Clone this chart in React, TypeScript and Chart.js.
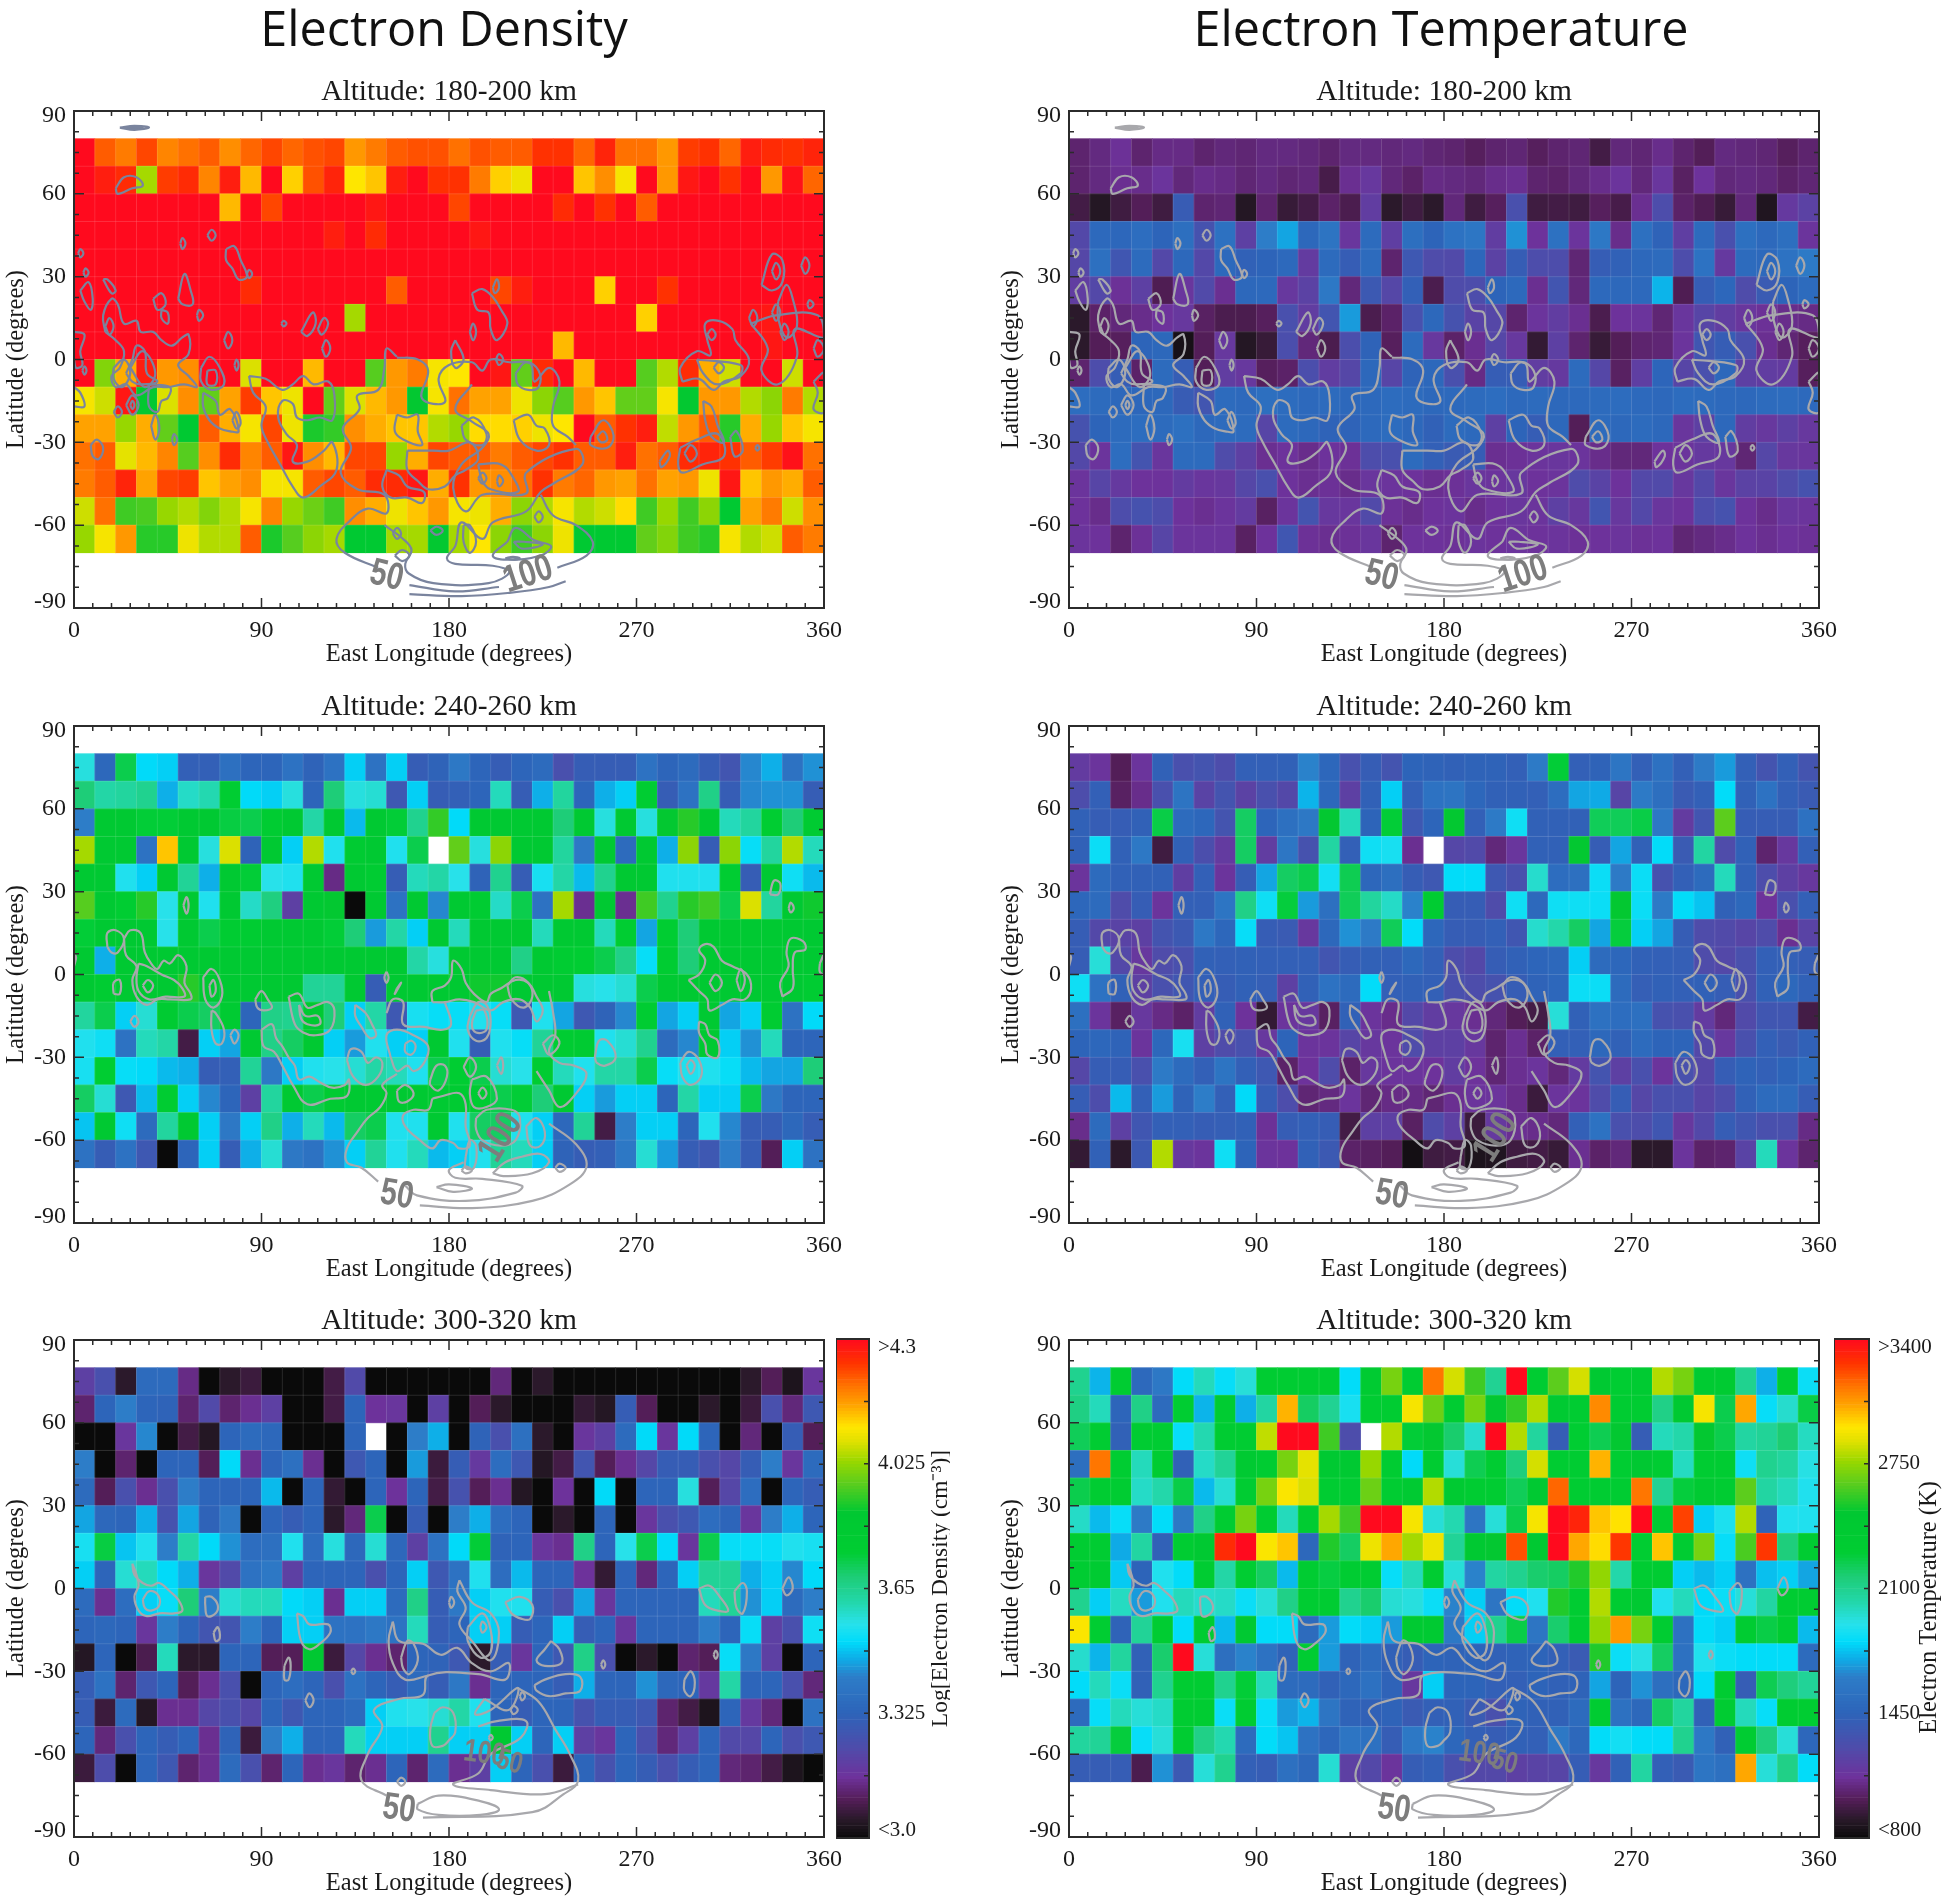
import React, { useEffect, useRef } from "react";
import { Chart, registerables } from "chart.js";

Chart.register(...registerables);

const rowTops = [80, 70, 60, 50, 40, 30, 20, 10, 0, -10, -20, -30, -40, -50, -60];
const colStarts = Array.from({ length: 36 }, (_, i) => i * 10);
const latTickValues = [88.2, 60, 30, 0, -30, -60, -87.8];
const latTickLabels = ["90", "60", "30", "0", "-30", "-60", "-90"];

const density180: number[][] = [
  [4.3,4.2,4.17,4.22,4.16,4.18,4.2,4.15,4.19,4.22,4.19,4.21,4.22,4.14,4.17,4.2,4.21,4.21,4.18,4.21,4.2,4.2,4.24,4.24,4.19,4.26,4.18,4.18,4.14,4.23,4.24,4.19,4.27,4.25,4.24,4.26],
  [4.3,4.27,4.25,3.99,4.23,4.25,4.16,4.27,4.11,4.3,4.09,4.21,4.26,4.07,4.1,4.27,4.3,4.24,4.24,4.17,4.09,4.05,4.3,4.3,4.1,4.15,4.06,4.3,4.14,4.28,4.3,4.24,4.3,4.14,4.29,4.19],
  [4.3,4.3,4.3,4.3,4.3,4.3,4.3,4.11,4.3,4.22,4.3,4.3,4.3,4.3,4.28,4.3,4.3,4.3,4.22,4.3,4.3,4.3,4.3,4.25,4.3,4.24,4.3,4.2,4.3,4.3,4.3,4.3,4.3,4.3,4.3,4.3],
  [4.3,4.3,4.3,4.3,4.3,4.3,4.3,4.3,4.3,4.3,4.3,4.3,4.27,4.3,4.25,4.3,4.3,4.3,4.3,4.28,4.3,4.3,4.3,4.3,4.3,4.3,4.3,4.3,4.3,4.3,4.3,4.3,4.3,4.3,4.3,4.3],
  [4.3,4.3,4.3,4.3,4.3,4.3,4.3,4.3,4.3,4.3,4.3,4.3,4.3,4.3,4.3,4.3,4.3,4.3,4.3,4.3,4.3,4.3,4.3,4.3,4.3,4.3,4.3,4.3,4.3,4.3,4.3,4.3,4.3,4.3,4.3,4.3],
  [4.3,4.3,4.3,4.3,4.3,4.3,4.3,4.3,4.25,4.3,4.3,4.3,4.3,4.3,4.3,4.2,4.3,4.3,4.3,4.3,4.22,4.27,4.3,4.3,4.3,4.09,4.3,4.3,4.24,4.3,4.3,4.3,4.3,4.3,4.3,4.3],
  [4.3,4.3,4.3,4.3,4.3,4.3,4.3,4.3,4.3,4.3,4.3,4.3,4.3,3.99,4.3,4.3,4.3,4.3,4.3,4.3,4.3,4.3,4.3,4.3,4.3,4.3,4.3,4.09,4.3,4.3,4.3,4.3,4.29,4.28,4.3,4.3],
  [4.3,4.3,4.3,4.3,4.3,4.3,4.3,4.3,4.3,4.3,4.3,4.3,4.3,4.3,4.3,4.3,4.3,4.3,4.3,4.3,4.3,4.3,4.3,4.11,4.3,4.3,4.3,4.3,4.3,4.3,4.3,4.3,4.3,4.28,4.3,4.3],
  [4.3,3.96,4.12,4.27,4.14,4.15,4.3,4.3,4.03,4.3,4.3,4.11,4.3,4.3,3.92,4.14,4.17,4.06,4.07,4.3,4.28,3.93,4.25,4.3,4.11,4.3,4.3,3.92,4.0,4.25,4.12,4.02,4.3,4.3,4.02,4.3],
  [4.06,4.02,4.28,3.85,4.03,4.15,3.93,4.13,4.23,4.1,4.05,4.3,3.93,4.03,4.11,4.14,3.85,4.06,4.18,4.13,4.13,4.05,3.97,3.92,4.14,4.1,3.93,3.93,4.06,3.85,4.14,4.14,4.0,3.97,4.17,4.0],
  [4.13,4.13,3.98,4.12,3.93,3.83,4.2,4.12,4.06,4.22,4.05,3.87,3.89,4.15,4.12,4.1,4.1,4.0,3.98,4.08,4.08,4.09,4.05,4.07,4.3,4.2,4.24,4.27,4.01,4.14,4.2,3.88,4.12,3.98,4.1,4.06],
  [4.18,4.2,4.04,4.11,4.16,3.92,4.15,4.25,4.16,4.2,4.28,4.15,4.11,4.22,4.22,3.98,4.12,4.22,4.2,4.2,4.17,4.2,4.22,4.24,4.2,4.2,4.27,4.18,4.2,4.25,4.26,4.24,4.2,4.23,4.29,4.18],
  [4.17,4.2,4.26,4.13,4.22,4.23,4.1,4.13,4.15,4.06,4.06,4.2,4.22,4.2,4.25,4.25,4.28,4.12,4.24,4.14,4.15,4.18,4.24,4.17,4.19,4.14,4.13,4.18,4.13,4.14,4.05,4.28,4.1,4.14,4.12,4.2],
  [4.02,4.18,3.9,3.91,3.98,4.0,3.96,4.0,4.06,4.16,3.98,3.94,3.9,4.15,4.12,4.05,4.1,4.14,4.06,4.05,4.12,3.97,4.0,4.06,4.0,4.02,4.08,3.9,3.98,3.9,3.97,3.83,4.13,4.17,4.02,4.15],
  [3.98,4.06,4.14,3.88,3.88,4.05,4.0,4.0,4.2,3.87,3.92,3.97,3.99,3.83,3.83,3.99,3.99,3.85,3.99,4.07,3.97,3.9,3.97,4.05,3.82,3.82,3.82,3.93,3.96,3.9,3.88,4.06,4.0,4.02,4.2,4.17],
];

const temperature180: number[][] = [
  [1040,1070,1110,1040,1080,1080,1040,1060,1050,1070,1070,1060,1040,1070,1070,1060,1070,1050,1040,1010,1040,1050,1010,1040,1050,960,1060,1050,1090,1040,1000,1070,1060,1050,1010,1040],
  [1040,1070,1100,1090,1130,1060,1090,1080,1050,1070,1050,1060,970,1100,1150,1060,1030,1080,1070,1060,1090,1100,1040,1030,1060,1090,1130,1060,1140,1020,1120,1060,1070,1060,1030,1050],
  [960,880,950,1000,950,1390,1040,1050,880,1040,930,960,1030,980,1180,900,950,900,1060,950,1010,1300,950,960,950,1010,970,1100,1280,1030,990,930,1060,870,1160,1210],
  [1250,1490,1470,1520,1450,1530,1320,1550,1200,1640,1720,1480,1570,1140,1500,1190,1530,1450,1560,1590,1180,1680,1120,1550,1130,1600,1090,1540,1440,1190,1500,1300,1540,1490,1530,1130],
  [1240,1540,1350,1500,1250,1480,1250,1490,1430,1450,1490,1170,1500,1400,1500,1040,1360,1270,1260,1470,1210,1400,1280,1280,1050,1400,1430,1480,1500,1280,1560,1160,1500,1490,1560,1620],
  [1180,1250,1110,1200,990,1140,1260,1100,1480,1490,1150,1210,1600,1060,1370,1240,1420,980,1270,1280,1450,1490,1100,1340,1060,1490,1480,1490,1750,990,1400,1470,1270,1380,1450,1500],
  [900,1030,1060,1090,1120,1150,1020,980,980,1010,1300,1180,1340,1700,980,1030,1310,1480,1320,1220,1240,1040,1130,1180,1100,980,1120,1130,1050,1140,1230,1180,1140,1110,1090,1080],
  [900,1000,1010,1450,1480,840,1000,1150,880,930,1290,1060,980,1290,1440,1010,1500,1150,1030,1100,1240,1150,920,1200,1040,930,1000,1040,1050,1130,1350,1400,1300,1100,1050,1010],
  [1040,1280,1400,1030,1500,1400,1000,1180,1150,1010,1030,1290,1180,1240,1480,1230,1440,1480,1300,1080,1400,1400,1180,1160,1500,1240,1020,1190,1460,1230,1300,1480,1200,1180,1170,1010],
  [1520,1500,1480,1470,1480,1390,1340,1500,1490,1530,1510,1490,1500,1480,1490,1510,1500,1480,1490,1500,1520,1490,1500,1480,1490,1500,1510,1490,1480,1510,1500,1490,1480,1500,1510,1490],
  [1320,1450,1500,1520,1500,1540,1480,1500,1500,1230,1500,1480,1440,1440,1490,1510,1480,1430,1500,1490,1200,1450,1400,1480,1000,1500,1480,1500,1480,1140,1200,1480,1180,1150,1200,1150],
  [1250,1130,1520,1330,1140,1500,1500,1270,1200,1100,1120,1090,1120,1110,1280,1300,1500,1420,1380,1400,1100,1110,1130,1140,1130,1090,1060,1060,1120,1130,1160,1150,1050,1240,1150,1140],
  [1130,1230,1160,1120,1120,1170,1140,1150,1240,1300,1120,1100,1110,1090,1140,1130,1120,1100,1110,1140,1130,1150,1120,1130,1270,1220,1120,1250,1260,1150,1250,1140,1210,1220,1270,1320],
  [1120,1090,1280,1320,1280,1120,1100,1130,1170,1020,1130,1330,1150,1140,1260,1110,1090,1120,1130,1090,1120,1140,1130,1200,1150,1340,1150,1250,1140,1120,1280,1320,1120,1090,1140,1130],
  [1130,1120,1040,1110,1230,1130,1130,1130,1020,1120,1350,1110,1100,1110,1140,1040,1120,1120,1110,1130,1120,1130,1120,1130,1110,1120,1130,1110,1120,1050,1070,1090,1120,1100,1120,1110],
];

const density240: (number | null)[][] = [
  [3.57,3.34,3.72,3.51,3.5,3.31,3.31,3.37,3.33,3.33,3.38,3.32,3.38,3.5,3.38,3.5,3.3,3.32,3.4,3.33,3.3,3.33,3.35,3.25,3.3,3.3,3.3,3.38,3.33,3.35,3.3,3.27,3.43,3.47,3.38,3.44],
  [3.68,3.62,3.63,3.65,3.47,3.59,3.61,3.75,3.51,3.5,3.57,3.33,3.68,3.57,3.58,3.28,3.5,3.3,3.31,3.33,3.6,3.3,3.47,3.63,3.33,3.47,3.5,3.75,3.3,3.38,3.66,3.3,3.43,3.44,3.44,3.3],
  [3.42,3.82,3.83,3.74,3.74,3.83,3.83,3.73,3.72,3.77,3.82,3.62,3.82,3.48,3.82,3.74,3.65,3.89,3.51,3.82,3.82,3.82,3.82,3.68,3.82,3.57,3.82,3.57,3.85,3.88,3.82,3.6,3.63,3.75,3.68,3.78],
  [3.99,3.82,3.82,3.38,4.1,3.82,3.57,4.03,3.32,3.82,3.5,4.0,3.55,3.78,3.82,3.55,3.72,null,3.93,3.57,3.97,3.82,3.82,3.63,3.4,3.82,3.35,3.82,3.47,3.97,3.3,3.97,3.52,3.63,4.0,3.6],
  [3.82,3.82,3.55,3.5,3.82,3.64,3.47,3.82,3.74,3.56,3.55,3.82,3.14,3.82,3.77,3.3,3.6,3.62,3.56,3.32,3.65,3.3,3.54,3.62,3.48,3.65,3.82,3.82,3.55,3.55,3.55,3.75,3.3,3.82,3.53,3.48],
  [3.92,3.82,3.75,3.88,3.56,3.82,3.55,3.82,3.59,3.67,3.2,3.82,3.85,3.0,3.82,3.38,3.82,3.43,3.82,3.76,3.59,3.72,3.38,3.99,3.15,3.82,3.15,3.9,3.65,3.88,3.9,3.72,4.03,3.63,3.82,3.86],
  [3.74,3.82,3.82,3.82,3.56,3.82,3.72,3.76,3.76,3.82,3.82,3.82,3.74,3.68,3.45,3.62,3.5,3.82,3.6,3.82,3.82,3.82,3.6,3.82,3.82,3.6,3.75,3.46,3.75,3.68,3.82,3.82,3.82,3.82,3.82,3.82],
  [3.82,3.47,3.82,3.82,3.82,3.82,3.82,3.82,3.82,3.82,3.82,3.82,3.82,3.82,3.82,3.82,3.62,3.57,3.82,3.82,3.82,3.66,3.82,3.76,3.75,3.72,3.66,3.52,3.76,3.68,3.82,3.82,3.82,3.82,3.82,3.82],
  [3.82,3.76,3.82,3.82,3.82,3.88,3.82,3.82,3.82,3.82,3.82,3.64,3.64,3.82,3.3,3.82,3.82,3.82,3.82,3.86,3.86,3.82,3.82,3.82,3.57,3.56,3.58,3.72,3.82,3.82,3.82,3.82,3.82,3.82,3.82,3.76],
  [3.63,3.72,3.5,3.58,3.78,3.72,3.7,3.78,3.33,3.66,3.65,3.82,3.68,3.5,3.62,3.28,3.54,3.52,3.52,3.55,3.52,3.28,3.55,3.46,3.28,3.32,3.43,3.76,3.46,3.5,3.82,3.46,3.5,3.76,3.38,3.51],
  [3.55,3.53,3.38,3.6,3.62,3.08,3.5,3.46,3.82,3.66,3.7,3.82,3.5,3.45,3.55,3.5,3.5,3.82,3.55,3.3,3.55,3.52,3.64,3.77,3.78,3.55,3.58,3.65,3.35,3.43,3.82,3.5,3.44,3.6,3.33,3.33],
  [3.54,3.75,3.52,3.51,3.48,3.47,3.3,3.31,3.64,3.4,3.5,3.55,3.56,3.58,3.62,3.6,3.55,3.72,3.75,3.72,3.58,3.56,3.76,3.6,3.55,3.62,3.62,3.72,3.52,3.55,3.55,3.52,3.48,3.46,3.46,3.68],
  [3.7,3.58,3.28,3.48,3.76,3.5,3.43,3.33,3.2,3.63,3.82,3.72,3.78,3.82,3.8,3.82,3.82,3.8,3.78,3.76,3.72,3.74,3.68,3.82,3.5,3.45,3.5,3.5,3.33,3.62,3.5,3.5,3.72,3.4,3.33,3.33],
  [3.49,3.82,3.53,3.35,3.63,3.82,3.5,3.4,3.5,3.66,3.47,3.6,3.48,3.7,3.72,3.55,3.55,3.82,3.55,3.7,3.7,3.55,3.5,3.34,3.64,3.08,3.42,3.5,3.5,3.33,3.55,3.43,3.3,3.3,3.34,3.3],
  [3.38,3.3,3.38,3.28,3.0,3.33,3.5,3.3,3.47,3.58,3.4,3.38,3.44,3.5,3.64,3.55,3.6,3.48,3.5,3.55,3.64,3.6,3.5,3.32,3.3,3.31,3.4,3.58,3.45,3.3,3.28,3.42,3.3,3.1,3.5,3.38],
];

const temperature240: (number | null)[][] = [
  [1170,1130,1000,1130,1430,1300,1330,1280,1420,1420,1430,1650,1470,1310,1400,1330,1450,1440,1430,1440,1440,1420,1620,2280,1420,1440,1580,1420,1550,1420,1620,1700,1420,1330,1420,1330],
  [1280,1420,1020,1090,1300,1570,1220,1330,1210,1300,1250,1750,1480,1200,1430,1800,1420,1560,1570,1470,1430,1430,1420,1520,1720,1730,1230,1620,1530,1380,1420,1830,1430,1560,1420,1380],
  [1430,1400,1400,1430,2250,1500,1470,1330,2200,1460,1540,1600,2500,2000,1450,2280,1360,1460,2500,1420,1620,1860,1430,1430,1430,2220,2220,2250,1600,1170,1340,2650,1400,1400,1400,1550],
  [1430,1850,1430,1600,950,1430,1290,1170,2200,1180,1590,1320,2050,1420,1860,1880,1100,null,1240,1260,1060,1140,1430,1430,2500,1400,1720,1430,1830,1380,2050,1270,1430,1040,1150,1420],
  [1130,1500,1430,1430,1430,1190,1420,1130,1400,1720,2200,2240,1870,2230,1470,1530,1400,1360,1830,1830,1360,1300,1970,1520,1540,1850,1620,1850,1320,1420,1500,2000,1430,1280,1200,1150],
  [1470,1500,1270,1400,1130,1420,1420,1580,2120,1860,2270,1700,1540,2220,2060,1980,1650,2330,1400,1400,1270,1860,1490,1860,1860,1850,2500,1850,1620,1830,1780,1430,1480,1120,1300,1420],
  [1400,1250,1220,1200,1330,1370,1600,1470,1840,1400,1380,1150,1480,1680,1620,2220,1830,1470,1400,1400,1420,1350,1970,2030,2200,1720,2270,1800,1720,1400,1270,1260,1230,1270,1100,1220],
  [1400,1950,1250,1150,1270,1300,1430,1420,1430,1420,1420,1420,1340,1400,1430,1420,1480,1420,1280,1250,1400,1430,1460,1480,1800,1500,1470,1430,1420,1410,1270,1250,1300,1420,1420,1400],
  [1860,1560,1430,1200,1300,1350,1420,1400,1430,1410,1200,1430,1560,1500,1830,1420,1430,1420,1300,1280,1320,1400,1440,1470,1850,1850,1500,1410,1430,1420,1430,1400,1300,1430,1480,1430],
  [1540,1130,1020,1150,1080,1030,1180,1430,1120,920,1130,1150,1020,1430,1130,1090,1250,1180,1150,1100,1060,1000,960,1950,1430,1550,1520,1540,1320,1300,1170,1060,1260,1350,1350,960],
  [1450,1470,1440,1130,1480,1880,1200,1270,1310,1150,1450,1130,1130,1230,1150,1130,1270,1200,1200,1150,1040,1100,1030,1420,1420,1480,1430,1500,1450,1450,1250,1150,1300,1420,1380,1430],
  [1240,1400,1400,1300,1620,1500,1420,1570,1420,1360,1030,1120,1270,1030,1150,1130,1130,1120,1180,1120,1050,1100,1130,1060,1170,1330,1200,1300,1130,1300,1240,1400,1440,1420,1450,1500],
  [1400,1280,1760,1420,1700,1440,1640,1420,1820,1400,1280,1050,1070,1130,1050,1080,1080,1050,1100,1130,1130,1090,940,1130,1130,1270,1400,1240,1300,1300,1230,1280,1430,1500,1500,1400],
  [1090,1500,1200,1350,1420,1420,1400,1410,1430,1110,1400,1420,1400,960,1200,1200,1020,1270,1200,940,1160,1100,1090,1060,1420,1560,1300,1280,1350,1150,1250,1400,1350,1300,1300,1080],
  [920,1430,900,1370,2800,1150,1130,1860,1450,1130,1120,1430,1370,1030,1020,1000,830,950,960,860,870,950,960,930,1100,1030,1060,900,900,1130,1030,1040,1220,2000,1130,1040],
];

const density300: (number | null)[][] = [
  [3.2,3.25,3.05,3.35,3.35,3.14,3.0,3.05,3.07,3.0,3.0,3.0,3.08,3.23,3.0,3.0,3.0,3.0,3.0,3.0,3.13,3.0,3.05,3.0,3.0,3.0,3.0,3.0,3.0,3.0,3.0,3.0,3.05,3.1,3.03,3.17],
  [3.12,3.33,3.42,3.33,3.32,3.12,3.23,3.12,3.15,3.2,3.0,3.0,3.08,3.33,3.16,3.17,3.0,3.2,3.0,3.1,3.05,3.0,3.0,3.0,3.06,3.04,3.3,3.1,3.0,3.0,3.05,3.0,3.07,3.25,3.13,3.28],
  [3.0,3.0,3.17,3.43,3.0,3.08,3.04,3.33,3.35,3.34,3.0,3.0,3.0,3.33,null,3.0,3.42,3.47,3.0,3.32,3.25,3.37,3.05,3.0,3.17,3.2,3.35,3.51,3.17,3.51,3.33,3.0,3.13,3.0,3.3,3.1],
  [3.42,3.0,3.12,3.0,3.33,3.33,3.1,3.51,3.15,3.33,3.37,3.15,3.0,3.28,3.33,3.0,3.45,3.07,3.3,3.18,3.36,3.28,3.04,3.08,3.27,3.1,3.15,3.22,3.3,3.3,3.25,3.22,3.3,3.42,3.17,3.35],
  [3.35,3.1,3.25,3.15,3.25,3.42,3.33,3.33,3.33,3.48,3.0,3.33,3.06,3.0,3.33,3.16,3.33,3.08,3.26,3.1,3.15,3.04,3.0,3.16,3.0,3.51,3.0,3.33,3.33,3.57,3.1,3.22,3.36,3.0,3.33,3.3],
  [3.46,3.34,3.33,3.47,3.26,3.46,3.32,3.4,3.0,3.33,3.3,3.33,3.05,3.13,3.72,3.0,3.3,3.0,3.42,3.47,3.36,3.33,3.0,3.05,3.0,3.33,3.0,3.17,3.25,3.28,3.36,3.33,3.17,3.42,3.47,3.33],
  [3.54,3.73,3.49,3.55,3.42,3.62,3.51,3.44,3.36,3.37,3.55,3.36,3.57,3.34,3.58,3.34,3.2,3.38,3.51,3.74,3.32,3.33,3.17,3.15,3.66,3.33,3.56,3.72,3.51,3.17,3.72,3.52,3.52,3.52,3.55,3.54],
  [3.5,3.33,3.58,3.6,3.51,3.47,3.17,3.23,3.38,3.4,3.2,3.33,3.33,3.33,3.25,3.33,3.5,3.28,3.38,3.55,3.36,3.48,3.33,3.33,3.16,3.06,3.33,3.13,3.33,3.5,3.64,3.64,3.47,3.5,3.43,3.51],
  [3.35,3.15,3.36,3.5,3.52,3.68,3.42,3.58,3.6,3.6,3.51,3.5,3.15,3.5,3.5,3.35,3.66,3.3,3.4,3.5,3.55,3.55,3.3,3.25,3.46,3.17,3.33,3.33,3.33,3.33,3.6,3.64,3.44,3.5,3.35,3.42],
  [3.33,3.34,3.33,3.17,3.42,3.33,3.27,3.27,3.42,3.33,3.5,3.5,3.38,3.38,3.4,3.38,3.6,3.3,3.33,3.5,3.5,3.3,3.33,3.5,3.3,3.33,3.17,3.33,3.33,3.33,3.42,3.33,3.52,3.2,3.25,3.53],
  [3.04,3.33,3.0,3.09,3.6,3.05,3.05,3.33,3.33,3.1,3.1,3.84,3.07,3.22,3.15,3.12,3.33,3.32,3.28,3.05,3.3,3.17,3.33,3.28,3.66,3.25,3.0,3.05,3.0,3.12,3.1,3.52,3.4,3.2,3.0,3.33],
  [3.3,3.38,3.12,3.28,3.33,3.1,3.15,3.25,3.0,3.33,3.36,3.33,3.25,3.38,3.33,3.3,3.35,3.3,3.4,3.15,3.33,3.33,3.33,3.3,3.47,3.33,3.33,3.44,3.34,3.33,3.18,3.62,3.33,3.33,3.25,3.13],
  [3.3,3.07,3.35,3.04,3.15,3.15,3.22,3.25,3.22,3.33,3.28,3.33,3.33,3.35,3.5,3.55,3.56,3.58,3.62,3.55,3.33,3.3,3.33,3.33,3.26,3.3,3.3,3.28,3.12,3.08,3.03,3.33,3.18,3.13,3.0,3.38],
  [3.33,3.13,3.25,3.33,3.3,3.33,3.15,3.32,3.07,3.42,3.47,3.33,3.33,3.6,3.5,3.5,3.5,3.65,3.5,3.5,3.82,3.5,3.33,3.5,3.2,3.17,3.33,3.25,3.13,3.2,3.33,3.23,3.22,3.33,3.25,3.28],
  [3.07,3.24,3.0,3.33,3.28,3.12,3.15,3.35,3.25,3.12,3.33,3.15,3.17,3.12,3.15,3.33,3.12,3.35,3.15,3.2,3.5,3.33,3.25,3.07,3.33,3.26,3.33,3.3,3.25,3.3,3.33,3.13,3.12,3.08,3.03,3.0],
];

const temperature300: (number | null)[][] = [
  [2100,1750,2350,1490,1600,1830,2000,1840,1950,2350,2350,2350,2350,1830,2380,2700,2350,3150,2850,2600,2090,3400,2350,2650,2850,2450,2300,2380,2800,2700,2360,2360,2100,1740,2350,1850],
  [2130,2000,1460,2120,1500,2300,1750,2350,1740,2050,3030,2200,2090,1880,2350,2350,2920,2680,2350,2700,2500,2580,2800,2420,2350,3110,2350,2350,2120,2450,2920,2240,3050,1840,1970,2250],
  [2220,2350,1430,2350,2350,1840,2020,2350,2350,2820,3400,3400,2600,1280,null,2800,2280,2500,2180,1970,3400,2800,2060,1400,2300,2230,2500,1400,2000,2030,2500,2240,2050,2080,2170,1990],
  [1530,3150,2300,2000,2350,1430,1980,2080,2400,2350,2700,2880,2450,2450,2760,2350,1820,2350,1950,2230,2350,2150,2850,2350,2350,3030,2300,2480,2350,1990,2350,2350,1860,2100,2060,1930],
  [2240,2350,2320,1980,2030,2250,1760,1960,2350,2700,2930,2860,2350,2350,2680,2350,2400,2800,2420,2350,2350,2220,2450,3180,2320,2350,2350,3150,2090,2270,2430,2350,2650,2050,2000,1900],
  [1980,1760,1840,1620,1830,1600,2120,2350,2700,2350,2000,2350,2780,2600,3400,3400,2920,1950,2020,1580,1950,2240,2920,3400,3320,3000,2950,3400,2350,3250,1800,1890,2800,1440,1900,1900],
  [2350,2350,1730,2050,1430,2350,2450,3300,3400,2930,3000,1480,2550,2200,2900,3050,2780,2900,2080,2450,2500,3220,2450,3400,3050,2960,3270,2300,3000,2350,2700,1840,2620,3270,2150,2320],
  [2350,2380,1790,1450,1900,1830,2350,2040,2300,2200,1760,2350,2260,2350,2350,1840,2000,2350,1950,1650,2050,2100,2180,2200,2550,2750,2030,2350,2350,1800,1760,1800,1550,1770,1800,1720],
  [2100,1800,1990,1700,1900,2000,1970,1980,1850,1950,2120,2350,2350,2100,2180,1960,1940,1850,1650,1800,1580,1830,1900,2550,2350,2800,2350,2450,1900,2000,1820,1850,1950,2050,2350,2350],
  [2930,2300,1440,2080,2350,1830,2350,1760,2450,1830,1830,1500,1700,1830,1800,1700,2400,2400,1600,1800,2100,2250,1580,2180,2350,2750,3080,2700,2350,1550,1830,1800,2350,2250,2350,1760],
  [1970,1750,2060,1430,2180,3400,1950,1530,1650,1560,1440,2350,1700,1440,1500,1430,1400,1450,1440,1450,1430,1440,1450,1420,1380,2550,1850,1930,2200,1550,1900,1850,1830,1830,1830,1500],
  [1830,2000,1850,1430,2100,2350,2350,2100,2280,2000,1500,1500,1430,1480,1550,1440,1150,1800,1450,1450,1420,1420,1450,1430,1440,1720,1450,1680,1530,1480,1820,2350,1400,2230,2150,2080],
  [1500,1840,2000,1950,1980,2350,2350,1850,2350,1840,1700,1750,1580,1440,1430,1440,1380,1420,1430,1380,1300,1440,1430,1430,1500,2350,1550,1480,2200,2060,1430,2350,2000,1840,2350,2300],
  [2060,2080,2270,1840,1950,2350,2120,2020,1500,1830,1780,1560,1470,1580,1550,1400,1600,1650,1470,1420,1400,1430,1420,1600,1480,1830,1870,1830,1830,2100,1600,1430,2350,2150,1950,1470],
  [1400,1400,1400,980,1680,1370,1950,2100,1420,1400,1540,1480,1960,1200,1250,1130,1400,1420,1300,1250,1250,1200,1220,1230,1400,1150,1430,2050,1420,1380,1580,1540,3050,1950,2120,1830],
];

// Magnetic-field contours: each list is lon, lat, lon, lat ...
const contours180: number[][] = [
  [20,62,24,66,30,66,33,63,28,62,21,60,20,62],[22,84,29,84.6,36,84,29,83.2,22,84],[25,84,29,84.2,33,84,29,83.7,25,84],
  [64,45,66,47,68,45,66,43,64,45],[51,42,52,44,53.5,42,52,40,51,42],[73,40,77,41,80,36,83,30,79,29,76,33,73,36,73,40],
  [83,31,84,32.5,85.5,31,84,29.5,83,31],[2,38.5,3,40,4.5,38.5,3,37,2,38.5],[4.5,31.5,5.5,33,7,31.5,5.5,30,4.5,31.5],
  [3,25,7,28,9,22,8,18,5,21,3,25],[14,29,16,29,20,25,18,24,14,29],[50,22,53,31,56,25,57,20,52,20,50,22],
  [15,10,14,16,18,22,21,20,24,13,30,14,32,10,38,10,42,7,47,5,52,8,55,9,55,2,50,-2,55,-6,59,-10,53,-9,45,-10,38,-10,30,-13,25,-9,20,-10,18,-6,22,-3,24,3,20,7,15,10],
  [25,-5,28,0,30,5,34,3,35,-5,40,-8,32,-9,28,-8,25,-5],[38,22,42,24,44,20,40,18,38,22],[42,18,45,17,45,13,42,15,42,18],
  [61,-3,65,1,70,-3,72,-9,66,-11,61,-8,61,-3],[64,-4,68,-4,68,-9,64,-9,64,-4],[59,16,60,18,62,16,60,14,59,16],[72,7,74,10,76,7,74,4,72,7],
  [77,-2,78,0,79,-2,78,-4,77,-2],[25,-16.5,28,-13,31,-16.5,28,-20,25,-16.5],[27,-16.5,28,-15,29,-16.5,28,-18,27,-16.5],[19,-19,21,-17,23,-19,21,-21,19,-19],
  [37,-24,39,-20,41,-25,39,-29,37,-24],[47,-29,48,-27,49.5,-29,48,-31,47,-29],[8,-31,11,-29,14,-32,12,-36,9,-35,8,-31],
  [36,-9,46,-10,45,-14,42,-15,40,-19,36,-17,36,-9],[62,-12,68,-15,70,-20,75,-18,79,-26,75,-26,70,-25,65,-22,62,-17,62,-12],[76,-22,78,-19,80,-23,78,-25,76,-22],
  [84,-6,92,-7,100,-11,105,-9,110,-6,115,-9,122,-8,125,-13,124,-22,118,-21,112,-22,107,-21,105,-16,100,-15,98,-21,102,-27,107,-31,105,-37,112,-37,120,-33,124,-30,126,-40,118,-46,110,-50,105,-46,99,-38,93,-30,90,-24,92,-17,86,-12,84,-6],
  [146,-75.4,130,-70,126,-65,133,-58,141,-54,150,-55.7,149,-49,136,-47,128,-41,133,-32,129,-25,137,-18,136,-13,146,-11,149,-3,150,4,155,1],
  [155,0.7,165,0,170,-4,167,-14,178,-15.5,175,-7,180,-2,191,-1,196,-4,200,0,209,-1,219,-1.4,221,-8,228,-3,233,-8,230,-17,230,-24,237,-28,241,-31],
  [248,-28,254,-22,259,-27.5,256,-32,248,-31,248,-28],[251,-28,254,-26,256,-29,253,-30,251,-28],
  [191,-9,183,-18,191,-22.5,199,-27,196,-32,186,-38,182,-46.5,188,-55,196,-49,217,-48.5,217,-41,241,-32.4,244,-38,230,-45,224,-48,217,-55,201,-59,196,-65,186,-59,183,-67.6,179,-72,183,-74,201,-74.7,209,-77,199,-81,172.5,-81,160.7,-77.5,159,-74,162,-69,158,-65,149,-60],
  [155,-20,160,-21,165,-20,165,-26,167,-31,158,-29,154,-26,155,-20],[160,-33,172,-33,180,-33,190,-30,194,-36,188,-40,183,-42,178,-46,170,-47,165,-44,160,-40,160,-33],
  [150,-40,156,-42,160,-46,168,-48,167,-52,160,-50,152,-50,148,-46,150,-40],[194,-38,205,-38,211,-43,213,-48,200,-47,196,-44,194,-38],
  [194,-43,196,-41,198,-43,196,-45,194,-43],[203,-44,204,-42,206,-44,204,-46,203,-44],[186,-24,192,-21,198,-27,196,-31,188,-29,186,-24],
  [211,-22,218,-20,222,-24,226,-25,228,-31,222,-33,214,-29,211,-22],[212,-5,217,-1,223,-4,223,-10,218,-11,213,-9,212,-5],
  [232,-75.4,246,-71,249,-66,241,-60,230,-56.5,224,-49],[161,-85,186,-85.7,209,-84.5,228,-82.4,236,-80.3],[161,-81.7,183,-84,204,-82.4],
  [208,-66,212,-61,221,-65.5,229,-67.6,224,-71,208,-72.5,201,-71,208,-66],[211,-66,215,-68.5,225,-67,216,-66,211,-66],[187,-60,190,-60,193,-66,190,-70,187,-66,187,-60],
  [221,-57,223,-55,225,-57,223,-59,221,-57],[153,-63,155,-61,157,-63,155,-65,153,-63],[154,-71,157.5,-69,161,-71,157.5,-73,154,-71],[171,-62,174,-60.5,177,-62,174,-63.5,171,-62],[207,-72,210.7,-71.5,214,-72,210.7,-72.5,207,-72],
  [191,24,196,25.5,201,22.6,205,18,208,13,203,7,200,11,199,17,193.6,18,191,24],[190,10,191.5,13,193,10,191.5,7,190,10],[183,7,187,0,183,-3,181,3,183,7],[202.5,0,204,2,206,0,204,-2,202.5,0],[201,26,203,29,204,26,202,24,201,26],
  [109,10,114.6,17,116,13,112,8.5,109,10],[117,11,120,15,122,13,119,9,117,11],[119,4,121,7,123,4,121,1,119,4],[99.5,13,100.6,14,102,13,100.6,12,99.5,13],
  [292,-8,291,-3,299,3,305.5,1.5,304,7,303,13,309.5,14,316,11,317.5,7,324,0,320,-6,312,-8,307,-11,300,-7,292,-8],[299,0,320,-2,320,-5,309,-9,302,-5,299,0],[304,9,306,11,308,9,306,7,304,9],[307,-3,309.5,-1,312,-3,309.5,-5,307,-3],
  [302,-15,306,-17,309,-24,312,-30,306,-28,303,-22,302,-15],[291,-32,299,-29,309,-27,312,-35,301.6,-38,292,-41,290,-38,291,-32],[293,-34,296,-31,299,-34,296,-37,293,-34],[315,-28,318,-26,321,-33,317,-35,315,-28],
  [281,-37,285,-33,286,-35,282,-39,281,-37],[327,-32,328,-31,329,-32,328,-33,327,-32],[330,27,335,38,340,36,340,28,335,25,330,27],[335,32,337,35,339,32,337,29,335,32],[349,34,351,37,353,34,351,31,349,34],
  [338,21,342,27,345,22,347,12,342,8,338,15,338,21],[335,17,337,20,339,17,337,14,335,17],[339,10,341,13,343,10,341,7,339,10],[324,15,326,18,328,15,326,12,324,15],[352,20,353,21.5,355,20,353,18.5,352,20],
  [325,13,337,16,357,16,360,8,346,11,347,1,338,-9,330,-4,333,4,325,13],[355,4,357,7,360,4,357,1,355,4],[355,-8,360,-5,360,-19,355,-18,357,-12,355,-8],
  [0,10,5,9,3,3,4,-2,1,-3,0,0],[4,-4,5,-2.5,6,-4,5,-5.5,4,-4],[0,-10,3,-12,5,-17,0,-17],[15,12,17,15,19,12,17,9,15,12],[19,-3,24,0,27,-5,23,-10,19,-7,19,-3],[27,-3,33,3,39,-5,34,-10,27,-3],
];

const contours240: number[][] = [
  [52.5,25,54,28,55,25,54,22,52.5,25],[16,10,16,15,20,16,24,13,21,8,18,8,16,10],
  [24,13,27,16,32,15,34,8,37,4,40,2,43,5,46,4,50,7,54,3,53,-3,56,-7,56,-9,46,-9,40,-9,35,-11,30,-8,28,-2,30,3,25,7,24,13],
  [31,4,35,3,42,0,48,-2,52,-5,53,-8,44,-8,36,-9,31,-6,30,-1,31,4],[33,-4,35.5,-2,38,-4,35.5,-6.5,33,-4],[19,-7,19,-3,22,-2,22,-7,19,-7],
  [62,-1,66,2,70,-2,71,-8,67,-12,63,-9,62,-1],[65,-4,67,-2,68,-6,66,-8,65,-4],[66,-13,68,-14,72,-20,71,-25,68,-25,66,-20,66,-13],[27,-17,29,-15,31,-17,29,-19,27,-17],[75,-22,77,-20,79,-22,77,-25,75,-22],
  [87,-9,90,-6,93,-9,95,-12,91,-13,88,-12,87,-9],[103,-8,108,-7,112,-12,117,-11,122,-10,125,-13,123,-20,116,-22,110,-21,106,-18,103,-8],[108,-11,111,-15,117,-15,118,-18,112,-18,109,-16,108,-11],
  [135,-11,140,-14,143,-18,145,-22,142,-23,138,-19,135,-15,135,-11],[150,1,151,-1,150,-3,149,-1,150,1],[155,-5,157,-3,154,-7,155,-5],
  [90,-20,95,-18,97,-23,100,-26,103,-30,106,-33,108,-38,113,-37,118,-39,124,-41,130,-40,132,-38,131,-44,123,-45,112,-47,105,-40,100,-33,96,-28,91,-26,90,-20],
  [131,-31,133,-27,138,-28,141,-32,145,-30,148,-32,146,-37,140,-40,134,-37,131,-31],[152,-30,150,-22,155,-20,163,-22,170,-26,168,-32,163,-35,160,-33,155,-35,152,-30],[159,-25,162,-24,164,-26,162,-29,159,-28,159,-25],
  [150,-14,153,-9,158,-10,158,-18,168,-19,177,-20,181,-18,178,-10],[172,-10,172,-6,178,-4,181,-1,182,5,186,2,188,-3,192,-7,198,-10,200,-7,205,-5,212,-2,218,-3,222,-8,225,-13,222,-17,219,-12,214,-9,206,-10,200,-13,192,-10,185,-9,178,-10,172,-10],
  [228,-6,230,-14,231,-22,228,-28,233,-32,240,-33,246,-36,240,-44,233,-48,228,-42,222,-35],[208,-4,212,-1,218,-3,220,-8,216,-12,210,-9,208,-4],[190,-15,194,-10,198,-11,200,-17,198,-23,193,-24,189,-20,190,-15],[193,-13,197,-13,198,-20,193,-21,191,-18,193,-13],
  [171,-38,174,-33,178,-33,179,-37,175,-42,171,-40,171,-38],[187,-33.5,190,-30,193,-33.5,190,-37,187,-33.5],[155,-42,159,-40,163,-43,160,-46,156,-46,155,-42],[191,-38,198,-37,203,-45,198,-48,192,-48,190,-43,191,-38],[194,-43,196,-41,198,-43,196,-45,194,-43],[203,-33,205,-30,206,-33,205,-36,203,-33],
  [172,-45,177,-44,185,-43,188,-47,188,-55,190,-62,185,-63,182,-61,176,-60,172,-63,166,-60,159,-55,158,-51,163,-49,170,-49,172,-45],[193,-52,198,-49,210,-49,214,-52,212,-60,205,-62,196,-60,193,-56,193,-52],[217,-55,222,-52,226,-57,224,-62,219,-62,217,-55],
  [146,-75,138,-70,131,-68,131,-63,136,-57,141,-52,147,-48,150,-43,148,-40,155,-36],[166,-83.6,191,-84.6,220,-82,238,-76,246,-69.5,241,-61.5,228,-54],[159,-76.5,164.6,-80,188,-82,212,-79,215,-76.5,196,-74,183,-73.6,180,-70.8,187,-68],
  [231,-70,233,-68.5,236,-70,233,-71.5,231,-70],[186,-71,188,-69.5,191,-71,188,-72,186,-71],[174,-77,180,-76,191,-77.5,182,-78.7,174,-77],[201,-72,207,-68,215,-66,224,-65,228,-68,220,-72,206,-73,201,-72],[188,-66,190,-60,193,-62,192,-70,188,-70,188,-66],
  [250,-30,252,-24,256,-24,260,-30,255,-33,251,-32,250,-30],[225,-25,230,-22,233,-25,228,-29,225,-25],[291,-32,295,-28,300,-31,301,-37,296,-40,292,-37,291,-32],[294,-33,296,-31,298,-33,296,-36,294,-33],[300,-17,303,-18,305,-22,309,-24,309,-30,304,-29,303,-25,300,-21,300,-17],
  [295,-2,300,0,303,5,300,9,303,11,307,10,311,5,316,3,323,0,325,-5,322,-9,316,-9,311,-11,305,-13,304,-9,300,-6,295,-2],[305,-3,308,0,311,-3,308,-6,305,-3],[318,-2,320,2,322,-2,320,-6,318,-2],
  [340,-8,339,-3,343,3,342,8,344,13,350,12,351,9,346,8,345,2,345,-5,340,-8],[358,4,360,7,360,0,358,1,358,4],[334,29,336,34,339,33,338,29,334,29],[343,24,344,26,345.5,24,344,22.5,343,24],[0,3,1,6,0.5,7,0,3],
];

const contours300: number[][] = [
  [28,9,29,5,33,2,37,1,41,2,46,-1,50,-4,52,-8,48,-9,41,-9,35,-10,31,-8,29,-3,31,1,30,5,28,9],[33,-4,36,-1,40,-2,41,-6,37,-8,34,-7,33,-4],[63,-3,66,-3,69,-6,68,-9,64,-10,63,-6,63,-3],[67,-16,69,-14,70,-18,68,-19,67,-16],
  [107,-9,110,-10,113,-13,122,-13,123,-16,118,-20,113,-22,109,-19,107,-9],[101,-28,103,-25,104,-28,103,-33,101,-33,101,-28],[111,-40.5,113,-38,115,-40.5,113,-43,111,-40.5],[133,-30,134,-29,135,-30,134,-31,133,-30],
  [153,-12,156,-19,167.5,-20,176,-24,184,-21.5,191,-27,200,-30,208.6,-27,207,-33,194,-31,170,-31.5,167.5,-38.5,156,-40,144,-44,148,-50,141,-60,138,-69.5,150,-75],[153,-12,151,-19,153,-27,159,-33,170,-31.5],[157,-25,160,-19,163,-20,165,-26,161,-31,158,-29,157,-25],
  [173,-45,177,-43,182,-45,183,-52,180,-55,177,-57,172,-57,171,-51,173,-45],[180,-5,181,-3,182.5,-5,181,-7,180,-5],[185,3,191,-5,200,-9,204,-16,200,-26,191,-19,185,-13,188,-7,184,-1,185,3],[189,-14,196,-9,200,-15,200,-23,195,-25,189,-19,189,-14],[195,-14,196,-12,198,-14,196,-16,195,-14],
  [207,-5,214,-3,220,-6,219,-11,215,-11,210,-9,207,-5],[229,-19,233,-22,234,-27,226,-28,222,-26,226,-22,229,-19],[221,-35,226,-33,236,-31,243,-32,243,-37,236,-38,228,-39,222,-37,221,-35],
  [213,-36,223,-41,231,-51,238,-60,242,-69.5,235,-74.5,220,-81,167.5,-83],[197,-40,192.5,-45.5,200,-44,213,-36,208.6,-44,197,-40],[194,-50,203,-48,217,-48,214.5,-54,200,-60,194,-67,182,-71,200,-73,226,-74.5,242,-71],
  [165,-78,175,-75,195,-77,204,-80,195,-82,175,-82,165,-80,165,-78],[155,-70,157,-68.5,159,-70,157,-71.5,155,-70],[300,0,305,1,310,-3,314,-8,309,-8,303,-6,300,0],[317,-1,321,2,323,-1,321,-9,318,-7,317,-1],[340,0,343,4,345,0,342,-2.5,340,0],
  [293,-33,296,-30,298,-34,296,-39,293,-37,293,-33],[307,-24,308,-22.5,309,-24,308,-25.5,307,-24],[253,-27.5,254,-26,255,-27.5,254,-29,253,-27.5],[214,-39,215,-37.5,216.5,-39,215,-40.5,214,-39],[209.5,-44,211,-42.5,213,-44,211,-45.5,209.5,-44],[199,-54,200,-53,201,-54,200,-55,199,-54],
];

const densityTicks = [3.02, 3.325, 3.65, 3.975, 4.278];
const densityTickLabels = ["<3.0", "3.325", "3.65", "4.025", ">4.3"];
const temperatureTicks = [840, 1450, 2100, 2750, 3355];
const temperatureTickLabels = ["<800", "1450", "2100", "2750", ">3400"];

const mapStops = [0, 0.036, 0.079, 0.122, 0.179, 0.25, 0.323, 0.358, 0.394, 0.43, 0.473, 0.523, 0.573, 0.652, 0.71, 0.753, 0.796, 0.824, 0.867, 0.91, 0.953, 1];
const mapColors = [
  [10,10,10],[40,25,40],[85,30,90],[110,50,155],[80,75,170],[45,100,185],[45,125,200],[15,170,230],[0,220,250],[40,225,235],[35,215,170],[30,205,120],[0,205,50],[0,200,50],[90,205,30],[150,215,0],[225,225,0],[255,230,0],[255,165,0],[255,110,0],[255,50,0],[255,10,30],
];

const colorAt = (t: number) => {
  const c = Math.max(0, Math.min(1, t));
  let i = 0;
  while (i < mapStops.length - 2 && c > mapStops[i + 1]) i++;
  const f = (c - mapStops[i]) / (mapStops[i + 1] - mapStops[i]);
  const rgb = mapColors[i].map((a, k) => Math.round(a + (mapColors[i + 1][k] - a) * f));
  return `rgb(${rgb[0]},${rgb[1]},${rgb[2]})`;
};

const SERIF = '"Liberation Serif", serif';
const DARK = "#2b2b2b";

const frame = (minorX: number, minorY: number) => ({
  id: "frame",
  afterDatasetDraw(chart: any, args: any) {
    if (args.index !== 0) return;
    const { ctx, scales } = chart;
    const yTop = scales.y.getPixelForValue(rowTops[0]);
    const yBottom = scales.y.getPixelForValue(rowTops[rowTops.length - 1] - 10);
    ctx.save();
    ctx.strokeStyle = "rgba(255,255,255,0.13)";
    ctx.lineWidth = 1;
    ctx.beginPath();
    colStarts.forEach((v) => {
      const x = scales.x.getPixelForValue(v);
      ctx.moveTo(x, yTop);
      ctx.lineTo(x, yBottom);
    });
    rowTops.forEach((v) => {
      const y = scales.y.getPixelForValue(v);
      ctx.moveTo(scales.x.left, y);
      ctx.lineTo(scales.x.right, y);
    });
    ctx.stroke();
    ctx.restore();
  },
  afterDatasetsDraw(chart: any) {
    const { ctx, chartArea: a, scales } = chart;
    ctx.save();
    ctx.strokeStyle = DARK;
    ctx.lineWidth = 1.5;
    ctx.beginPath();
    for (let v = 0; v <= 360; v += minorX) {
      const x = scales.x.getPixelForValue(v);
      const len = v % 90 === 0 ? 10 : 5;
      ctx.moveTo(x, a.top); ctx.lineTo(x, a.top + len);
      ctx.moveTo(x, a.bottom); ctx.lineTo(x, a.bottom - len);
    }
    for (let v = -90; v <= 90; v += minorY) {
      const y = scales.y.getPixelForValue(v);
      const len = v % 30 === 0 ? 10 : 5;
      ctx.moveTo(a.left, y); ctx.lineTo(a.left + len, y);
      ctx.moveTo(a.right, y); ctx.lineTo(a.right - len, y);
    }
    ctx.stroke();
    ctx.lineWidth = 2;
    ctx.strokeRect(a.left, a.top, a.right - a.left, a.bottom - a.top);
    ctx.restore();
  },
});

const contourLabels = (labels: { t: string; lon: number; lat: number; rot: number; size: number }[]) => ({
  id: "contourLabels",
  afterDatasetsDraw(chart: any) {
    const { ctx, scales } = chart;
    ctx.save();
    ctx.fillStyle = "rgb(125,125,125)";
    ctx.textAlign = "center";
    ctx.textBaseline = "middle";
    labels.forEach((l) => {
      ctx.save();
      ctx.translate(scales.x.getPixelForValue(l.lon), scales.y.getPixelForValue(l.lat));
      ctx.rotate((l.rot * Math.PI) / 180);
      ctx.scale(0.78, 1);
      ctx.font = `bold ${l.size}px "Liberation Sans", sans-serif`;
      ctx.fillText(l.t, 0, 0);
      ctx.restore();
    });
    ctx.restore();
  },
});

type PanelProps = {
  left: number; top: number; title: string; values: (number | null)[][]; min: number; max: number;
  contours: number[][]; line: string; labels: { t: string; lon: number; lat: number; rot: number; size: number }[];
};

const PLOT_W = 750, PLOT_H = 497, Y_BOX = 74, TITLE_BOX = 36, X_BOX = 61, RIGHT_PAD = 30;

function Panel({ left, top, title, values, min, max, contours, line, labels }: PanelProps) {
  const ref = useRef<HTMLCanvasElement>(null);
  useEffect(() => {
    const cells: any[] = [];
    const colors: string[] = [];
    values.forEach((row, r) =>
      row.forEach((v, c) => {
        if (v === null) return;
        cells.push({ x: colStarts[c] + 5, y: [rowTops[r] - 10, rowTops[r]] });
        colors.push(colorAt((v - min) / (max - min)));
      })
    );
    const lineSets = contours.map((flat) => {
      const data: { x: number; y: number }[] = [];
      for (let i = 0; i < flat.length; i += 2) data.push({ x: flat[i], y: flat[i + 1] });
      return { type: "line", data, borderColor: line, borderWidth: 2.2, pointRadius: 0, tension: 0.4, order: 1, fill: false };
    });
    const chart = new Chart(ref.current as HTMLCanvasElement, {
      type: "bar",
      data: {
        datasets: [
          { type: "bar", data: cells, backgroundColor: colors, borderWidth: 0, barPercentage: 1, categoryPercentage: 1, order: 2 },
          ...lineSets,
        ] as any,
      },
      plugins: [frame(9, 7.5), contourLabels(labels)],
      options: {
        responsive: false,
        animation: false,
        layout: { padding: { right: RIGHT_PAD } },
        plugins: {
          legend: { display: false },
          tooltip: { enabled: false },
          title: { display: true, fullSize: false, text: title, color: "#1a1a1a", font: { family: SERIF, size: 29.5, weight: "normal", lineHeight: 1.2 }, padding: { top: 0, bottom: TITLE_BOX - 35.4 } },
        },
        scales: {
          x: {
            type: "linear", min: 0, max: 360, offset: false,
            grid: { display: false, drawTicks: false }, border: { display: false },
            ticks: { stepSize: 90, padding: 8, maxRotation: 0, color: "#1a1a1a", font: { family: SERIF, size: 24 } },
            title: { display: true, text: "East Longitude (degrees)", color: "#1a1a1a", font: { family: SERIF, size: 24.5, lineHeight: 1.2 }, padding: 0 },
            afterFit: (s: any) => { s.height = X_BOX; },
          },
          y: {
            type: "linear", min: -90, max: 90,
            grid: { display: false, drawTicks: false }, border: { display: false },
            afterBuildTicks: (s: any) => { s.ticks = latTickValues.map((value) => ({ value })); },
            ticks: {
              padding: 8, autoSkip: false, color: "#1a1a1a", font: { family: SERIF, size: 24 },
              callback: (v: any) => latTickLabels[latTickValues.indexOf(Number(v))],
            },
            title: { display: true, text: "Latitude (degrees)", color: "#1a1a1a", font: { family: SERIF, size: 24.5, lineHeight: 1.2 }, padding: { top: 2, bottom: 0 } },
            afterFit: (s: any) => { s.width = Y_BOX; s.paddingTop = 0; s.paddingBottom = 0; },
          },
        },
      } as any,
    });
    return () => chart.destroy();
  }, []);
  return (
    <canvas
      ref={ref}
      width={Y_BOX + PLOT_W + RIGHT_PAD}
      height={TITLE_BOX + PLOT_H + X_BOX}
      style={{ position: "absolute", left: left - Y_BOX, top: top - TITLE_BOX, display: "block" }}
    />
  );
}

type BarProps = { left: number; top: number; width: number; height: number; min: number; max: number; ticks: number[]; tickLabels: string[]; title: string; titleX: number; titleDy: number; titleSize: number };

function ColorBar({ left, top, width, height, min, max, ticks, tickLabels, title, titleX, titleDy, titleSize }: BarProps) {
  const ref = useRef<HTMLCanvasElement>(null);
  useEffect(() => {
    const segments = 160;
    const data: any[] = [];
    const colors: string[] = [];
    for (let i = 0; i < segments; i++) {
      data.push({ x: "bar", y: [min + ((max - min) * i) / segments, min + ((max - min) * (i + 1)) / segments] });
      colors.push(colorAt((i + 0.5) / segments));
    }
    const PAD = 16, AXIS = 81;
    const overlay = {
      id: "barOverlay",
      afterDatasetsDraw(chart: any) {
        const { ctx, chartArea: a } = chart;
        ctx.save();
        ctx.strokeStyle = DARK;
        ctx.lineWidth = 1.5;
        ctx.beginPath();
        for (let i = 1; i < 8; i++) {
          const y = a.bottom - ((a.bottom - a.top) * i) / 8;
          ctx.moveTo(a.right, y);
          ctx.lineTo(a.right - 5, y);
        }
        ctx.stroke();
        ctx.lineWidth = 2;
        ctx.strokeRect(a.left, a.top, a.right - a.left, a.bottom - a.top);
        ctx.translate(titleX, (a.top + a.bottom) / 2 + titleDy);
        ctx.rotate(-Math.PI / 2);
        ctx.fillStyle = "#1a1a1a";
        ctx.font = `${titleSize}px ${SERIF}`;
        ctx.textAlign = "center";
        ctx.textBaseline = "middle";
        ctx.fillText(title, 0, 0);
        ctx.restore();
      },
    };
    const chart = new Chart(ref.current as HTMLCanvasElement, {
      type: "bar",
      data: { labels: ["bar"], datasets: [{ data, backgroundColor: colors, borderWidth: 0, barPercentage: 1, categoryPercentage: 1 }] as any },
      plugins: [overlay],
      options: {
        responsive: false,
        animation: false,
        layout: { padding: { top: PAD, bottom: PAD } },
        plugins: { legend: { display: false }, tooltip: { enabled: false } },
        scales: {
          x: { type: "category", display: false, offset: true },
          y: {
            type: "linear", position: "right", min, max,
            grid: { display: false, drawTicks: false }, border: { display: false },
            afterBuildTicks: (s: any) => { s.ticks = ticks.map((value) => ({ value })); },
            ticks: {
              padding: 9, color: "#1a1a1a", autoSkip: false, font: { family: SERIF, size: 21 },
              callback: (v: any) => tickLabels[ticks.indexOf(Number(v))],
            },
            afterFit: (s: any) => { s.width = AXIS; s.paddingTop = 0; s.paddingBottom = 0; },
          },
        },
      } as any,
    });
    return () => chart.destroy();
  }, []);
  return <canvas ref={ref} width={width + 81} height={height + 32} style={{ position: "absolute", left, top: top - 16, display: "block" }} />;
}

const Heading = ({ x, text }: { x: number; text: string }) => (
  <div style={{ position: "absolute", left: x, top: -3, transform: "translateX(-50%)", fontFamily: '"Open Sans", sans-serif', fontSize: 48.5, lineHeight: "60px", color: "#111", whiteSpace: "nowrap" }}>{text}</div>
);

const COL_L = 74, COL_R = 1069;
const ROW_1 = 111, ROW_2 = 726, ROW_3 = 1340;
const D = { min: 3, max: 4.3 };
const T = { min: 800, max: 3400 };
const LINE_DARK = "rgb(122,132,158)";
const LINE_LIGHT = "rgb(168,168,172)";

export default function App() {
  const labelsA = [
    { t: "50", lon: 150, lat: -78.5, rot: 14, size: 38 },
    { t: "100", lon: 218, lat: -78, rot: -18, size: 38 },
  ];
  const labelsB = [
    { t: "50", lon: 155, lat: -80, rot: 10, size: 38 },
    { t: "100", lon: 205, lat: -59, rot: -58, size: 38 },
  ];
  const labelsC = [
    { t: "50", lon: 156, lat: -80, rot: 8, size: 38 },
    { t: "100", lon: 197, lat: -60, rot: 8, size: 32 },
    { t: "50", lon: 209, lat: -63, rot: 15, size: 30 },
  ];
  return (
    <div style={{ position: "absolute", left: 0, top: 0, width: 1950, height: 1900, background: "#fff", overflow: "hidden" }}>
      <Heading x={444} text="Electron Density" />
      <Heading x={1441} text="Electron Temperature" />
      <Panel left={COL_L} top={ROW_1} title="Altitude: 180-200 km" values={density180} {...D} contours={contours180} line={LINE_DARK} labels={labelsA} />
      <Panel left={COL_R} top={ROW_1} title="Altitude: 180-200 km" values={temperature180} {...T} contours={contours180} line={LINE_LIGHT} labels={labelsA} />
      <Panel left={COL_L} top={ROW_2} title="Altitude: 240-260 km" values={density240} {...D} contours={contours240} line={LINE_LIGHT} labels={labelsB} />
      <Panel left={COL_R} top={ROW_2} title="Altitude: 240-260 km" values={temperature240} {...T} contours={contours240} line={LINE_LIGHT} labels={labelsB} />
      <Panel left={COL_L} top={ROW_3} title="Altitude: 300-320 km" values={density300} {...D} contours={contours300} line={LINE_LIGHT} labels={labelsC} />
      <Panel left={COL_R} top={ROW_3} title="Altitude: 300-320 km" values={temperature300} {...T} contours={contours300} line={LINE_LIGHT} labels={labelsC} />
      <ColorBar left={836} top={1339} width={33} height={499} {...D} ticks={densityTicks} tickLabels={densityTickLabels} title="Log[Electron Density (cm⁻³)]" titleX={105} titleDy={0} titleSize={23.5} />
      <ColorBar left={1834} top={1339} width={35} height={499} {...T} ticks={temperatureTicks} tickLabels={temperatureTickLabels} title="Electron Temperature (K)" titleX={96} titleDy={19} titleSize={24.5} />
    </div>
  );
}
